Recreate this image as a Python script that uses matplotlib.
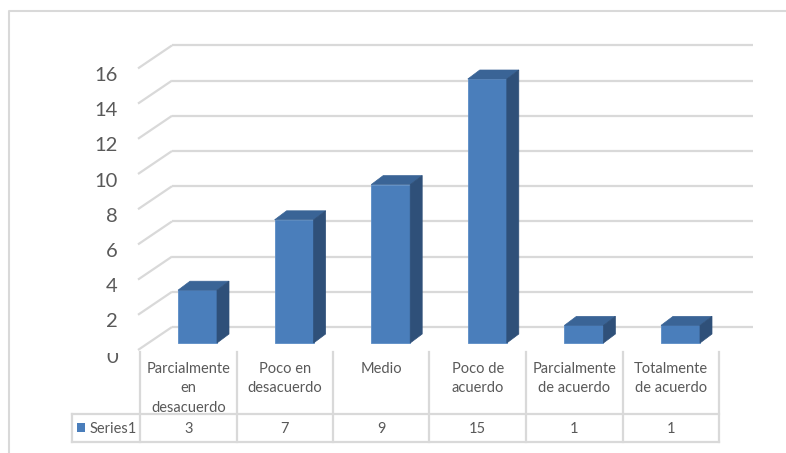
import matplotlib

matplotlib.use("Agg")

import matplotlib.pyplot as plt
from matplotlib.lines import Line2D
from matplotlib.patches import Polygon, Rectangle
from matplotlib.transforms import Bbox

# data
categories = [
    "Parcialmente\nen\ndesacuerdo",
    "Poco en\ndesacuerdo",
    "Medio",
    "Poco de\nacuerdo",
    "Parcialmente\nde acuerdo",
    "Totalmente\nde acuerdo",
]
values = [3, 7, 9, 15, 1, 1]
series_name = "Series1"
y_ticks = [0, 2, 4, 6, 8, 10, 12, 14, 16]

# layout (pixels)
W, H = 786, 453
X0 = 197.5        # centre of first bar front face
STEP = 96.6       # category spacing
BASE = 343        # y of bar base (value 0)
UNIT = 17.6       # pixels per value unit

FRONT = "#4a7ebb"
TOP = "#3a6496"
SIDE = "#2f5079"
GRID = "#d9d9d9"
TXT = "#595959"
FONT = "Lato"


def px(x):
    return (x - X0) / STEP


def py(y):
    return (BASE - y) / UNIT


fig = plt.figure(figsize=(W / 100, H / 100), dpi=100)
ax = fig.add_axes([0, 0, 1, 1])
ax.set_xlim(px(0), px(W))
ax.set_ylim(py(H), py(0))
ax.axis("off")

# chart border (cropped at right/bottom)
bx, by = 9 / W, 1 - 11 / H
fig.add_artist(Line2D([bx, bx, 1], [0, by, by], transform=fig.transFigure,
                      color=GRID, lw=1.5))

# walls: floor depth and bar depth offsets
floor_front_dy = py(350)
floor_back_dy = py(327)
x_front, x_back, x_right = px(138), px(172), px(753)

for v in y_ticks:
    ax.plot([x_front, x_back], [v + floor_front_dy, v + floor_back_dy],
            color=GRID, lw=1.6, zorder=1, solid_capstyle="butt")
    ax.plot([x_back, x_right], [v + floor_back_dy, v + floor_back_dy],
            color=GRID, lw=1.6, zorder=1, solid_capstyle="butt")
    t = ax.text(px(118), v - 0.8, str(v), ha="right", va="center",
                fontsize=14.5, color=TXT, family=FONT)
    if v == 0:
        # excel crops the top of the zero label
        t.set_clip_on(True)
        t.set_clip_box(Bbox([[0, 0], [W, H - 353]]))

# 3D bars
bw = 39 / STEP
ddx = 12 / STEP
ddy = 9 / UNIT
xs = list(range(len(values)))
ax.bar(xs, values, width=bw, color=FRONT, edgecolor="#5b8cc6", linewidth=0.6, zorder=3)
for x, v in zip(xs, values):
    l, r = x - bw / 2, x + bw / 2
    ax.add_patch(Polygon([(l, v), (r, v), (r + ddx, v + ddy), (l + ddx, v + ddy)],
                         closed=True, facecolor=TOP, edgecolor=TOP, lw=0.5, zorder=3))
    ax.add_patch(Polygon([(r, 0), (r + ddx, ddy), (r + ddx, v + ddy), (r, v)],
                         closed=True, facecolor=SIDE, edgecolor=SIDE, lw=0.5, zorder=3))

# data table
col_left = px(140)
col_w = 96.5 / STEP
n = len(categories)
top_y, mid_y, bot_y = py(352), py(414), py(442)
for k in range(n + 1):
    xk = col_left + k * col_w
    ax.plot([xk, xk], [top_y, bot_y], color=GRID, lw=1.6, zorder=2)
left_x = px(72)
right_x = col_left + n * col_w
ax.plot([left_x, right_x], [mid_y, mid_y], color=GRID, lw=1.6, zorder=2)
ax.plot([left_x, right_x], [bot_y, bot_y], color=GRID, lw=1.6, zorder=2)
ax.plot([left_x, left_x], [mid_y, bot_y], color=GRID, lw=1.6, zorder=2)

for k, (cat, v) in enumerate(zip(categories, values)):
    cx = col_left + (k + 0.5) * col_w
    ax.text(cx, py(362), cat, ha="center", va="top", fontsize=10.5,
            color=TXT, family=FONT, linespacing=1.5)
    ax.text(cx, py(429), str(v), ha="center", va="center", fontsize=10.5,
            color=TXT, family=FONT)

ax.add_patch(Rectangle((px(77), py(432)), 8 / STEP, 9 / UNIT,
                       facecolor=FRONT, edgecolor="none", zorder=3))
ax.text(px(90), py(429), series_name, ha="left", va="center", fontsize=10.5,
        color=TXT, family=FONT)

fig.savefig("out.png", dpi=100)
